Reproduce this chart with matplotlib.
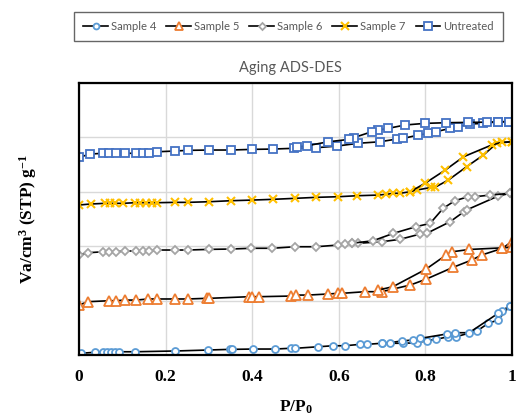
import matplotlib
matplotlib.use('Agg')
import matplotlib.pyplot as plt
from matplotlib.lines import Line2D

plt.rcParams['mathtext.fontset'] = 'custom'
plt.rcParams['mathtext.bf'] = 'Liberation Serif:bold'
plt.rcParams['mathtext.rm'] = 'Liberation Serif:bold'
plt.rcParams['mathtext.it'] = 'Liberation Serif:bold'

# Isotherm branches (relative pressure, adsorbed volume) for each sample
s4_ads_x = [0.004, 0.037, 0.055, 0.065, 0.074, 0.083, 0.093, 0.129, 0.222, 0.299, 0.349, 0.354,
            0.403, 0.453, 0.489, 0.500, 0.553, 0.586, 0.614, 0.649, 0.665, 0.699, 0.749, 0.780,
            0.803, 0.824, 0.853, 0.871, 0.920, 0.945, 0.968, 0.995]
s4_ads_y = [1.6, 2.5, 3.0, 3.0, 3.0, 3.0, 3.0, 3.0, 3.7, 4.6, 5.2, 5.2,
            5.5, 5.5, 6.2, 6.2, 7.6, 8.5, 8.5, 9.8, 9.8, 10.8, 10.8, 11.3,
            13.1, 14.4, 16.8, 16.8, 22.3, 29.1, 32.2, 45.0]
s4_des_x = [0.995, 0.976, 0.968, 0.901, 0.868, 0.849, 0.788, 0.771, 0.745, 0.718, 0.699]
s4_des_y = [45.0, 40.7, 38.3, 20.5, 20.5, 19.3, 15.3, 13.8, 12.9, 11.3, 10.8]

s5_ads_x = [0.0, 0.021, 0.070, 0.085, 0.106, 0.132, 0.160, 0.181, 0.222, 0.251, 0.295, 0.301,
            0.393, 0.400, 0.416, 0.490, 0.501, 0.529, 0.576, 0.599, 0.607, 0.661, 0.699,
            0.765, 0.801, 0.864, 0.907, 0.930, 0.978, 0.999]
s5_ads_y = [46.0, 49.0, 49.9, 49.9, 50.5, 50.5, 51.5, 51.5, 51.5, 51.5, 52.1, 52.1,
            53.6, 53.6, 53.6, 54.2, 55.1, 55.1, 56.1, 56.7, 56.7, 58.2, 58.2,
            64.3, 69.6, 80.6, 87.3, 91.9, 98.1, 104.1]
s5_des_x = [0.999, 0.978, 0.901, 0.862, 0.848, 0.801, 0.725, 0.691]
s5_des_y = [99.0, 98.5, 97.0, 94.9, 91.9, 78.8, 62.8, 59.7]

s6_ads_x = [0.001, 0.021, 0.056, 0.070, 0.085, 0.106, 0.132, 0.147, 0.162, 0.181, 0.222, 0.251,
            0.301, 0.350, 0.397, 0.446, 0.499, 0.547, 0.599, 0.614, 0.630, 0.645, 0.699,
            0.741, 0.788, 0.803, 0.857, 0.889, 0.895, 0.968, 0.995]
s6_ads_y = [91.9, 94.0, 94.9, 94.9, 94.9, 95.6, 95.6, 95.6, 95.6, 96.5, 96.5, 96.5,
            97.1, 97.4, 98.1, 98.1, 99.5, 99.5, 101.1, 101.7, 102.7, 102.7, 104.1,
            106.3, 111.2, 111.8, 122.5, 131.7, 133.3, 146.1, 148.6]
s6_des_x = [0.995, 0.949, 0.915, 0.899, 0.868, 0.841, 0.811, 0.778, 0.726, 0.679, 0.630]
s6_des_y = [148.6, 147.0, 145.5, 145.5, 141.8, 134.8, 121.0, 117.9, 111.8, 105.0, 102.7]

s7_ads_x = [0.001, 0.027, 0.060, 0.072, 0.083, 0.102, 0.129, 0.141, 0.155, 0.168, 0.181, 0.222,
            0.251, 0.301, 0.350, 0.400, 0.449, 0.499, 0.547, 0.599, 0.642, 0.691, 0.710,
            0.726, 0.741, 0.765, 0.780, 0.814, 0.822, 0.853, 0.895, 0.934, 0.965, 0.999]
s7_ads_y = [137.9, 138.8, 139.4, 139.4, 139.4, 139.4, 140.0, 140.0, 140.0, 140.0, 140.0, 140.3,
            140.3, 140.9, 141.8, 142.4, 143.1, 144.0, 144.9, 145.5, 146.4, 147.0, 147.7,
            148.6, 148.6, 150.1, 151.6, 154.1, 154.1, 160.8, 173.0, 183.8, 194.6, 196.0]
s7_des_x = [0.999, 0.976, 0.953, 0.888, 0.846, 0.799, 0.765]
s7_des_y = [196.0, 195.5, 193.0, 182.2, 170.0, 157.8, 150.1]

un_ads_x = [0.001, 0.025, 0.056, 0.070, 0.085, 0.106, 0.132, 0.147, 0.162, 0.181, 0.222, 0.251,
            0.301, 0.350, 0.400, 0.449, 0.497, 0.547, 0.595, 0.645, 0.695, 0.734, 0.749,
            0.784, 0.807, 0.824, 0.857, 0.876, 0.903, 0.934, 0.968, 0.994]
un_ads_y = [181.7, 184.7, 185.4, 185.4, 185.4, 185.4, 185.4, 185.4, 185.4, 186.8, 187.5, 188.1,
            188.4, 188.4, 189.0, 189.3, 190.0, 190.5, 192.0, 194.6, 196.0, 198.5, 199.1,
            202.2, 203.7, 205.2, 208.3, 209.8, 212.3, 212.9, 214.4, 214.4]
un_des_x = [0.994, 0.968, 0.942, 0.899, 0.848, 0.799, 0.753, 0.714, 0.691, 0.676, 0.634,
            0.624, 0.576, 0.526, 0.504]
un_des_y = [214.4, 214.4, 214.0, 213.8, 213.5, 212.9, 211.4, 208.3, 206.8, 205.2, 199.7,
            198.2, 196.0, 192.3, 191.4]

series = [
    ('Sample 4', s4_ads_x, s4_ads_y, s4_des_x, s4_des_y, 'o', '#5B9BD5'),
    ('Sample 5', s5_ads_x, s5_ads_y, s5_des_x, s5_des_y, '^', '#ED7D31'),
    ('Sample 6', s6_ads_x, s6_ads_y, s6_des_x, s6_des_y, 'D', '#A5A5A5'),
    ('Sample 7', s7_ads_x, s7_ads_y, s7_des_x, s7_des_y, 'x', '#FFC000'),
    ('Untreated', un_ads_x, un_ads_y, un_des_x, un_des_y, 's', '#4472C4'),
]
marker_sizes = {'o': 5, '^': 6.5, 'D': 4.2, 'x': 6, 's': 6}

fig = plt.figure(figsize=(5.18, 4.19), dpi=100)
ax = fig.add_axes([0.1525, 0.1527, 0.8359, 0.6492])

handles = []
for name, ax_x, ax_y, dx, dy, mk, col in series:
    kw = dict(color='black', lw=1.2, marker=mk, ms=marker_sizes[mk], mec=col,
              mew=1.5 if mk == 'x' else 1.3,
              mfc=col if mk == 'x' else 'white')
    ax.plot(ax_x, ax_y, **kw)
    ax.plot(dx, dy, **kw)
    handles.append(Line2D([], [], label=name, **dict(kw, ms=kw['ms'] * 0.85)))

ax.set_xlim(0, 1)
ax.set_ylim(0, 250)
ax.set_xticks([0, 0.2, 0.4, 0.6, 0.8, 1.0])
ax.set_xticklabels(['0', '0.2', '0.4', '0.6', '0.8', '1'])
ax.set_yticks([0, 50, 100, 150, 200, 250])
ax.set_yticklabels([])
ax.tick_params(length=0, pad=10)
for lbl in ax.get_xticklabels():
    lbl.set_fontfamily('Liberation Serif')
    lbl.set_fontweight('bold')
    lbl.set_fontsize(12.5)
ax.grid(True, color='#D9D9D9', lw=1)
ax.set_axisbelow(True)
for sp in ax.spines.values():
    sp.set_linewidth(1.6)
    sp.set_color('black')

ax.set_xlabel('P/P$_0$', fontfamily='Liberation Serif', fontweight='bold',
              fontsize=12.5, labelpad=10)
ax.set_ylabel('Va/cm$^3$ (STP) g$^{-1}$', fontfamily='Liberation Serif',
              fontweight='bold', fontsize=12.5, labelpad=19)

fig.text(0.56, 0.838, 'Aging ADS-DES', ha='center', va='center', color='#595959',
         fontfamily='Lato', fontsize=10.5)

leg = fig.legend(handles=handles, loc='center', bbox_to_anchor=(0.557, 0.9375), ncol=5,
                 frameon=True, fancybox=False, edgecolor='#404040',
                 prop={'family': 'Lato', 'size': 8.1}, handlelength=2.2,
                 handletextpad=0.25, columnspacing=0.9, borderpad=0.8)
leg.get_frame().set_linewidth(1.0)
for t in leg.get_texts():
    t.set_color('#595959')

fig.savefig('out.png', dpi=100)
